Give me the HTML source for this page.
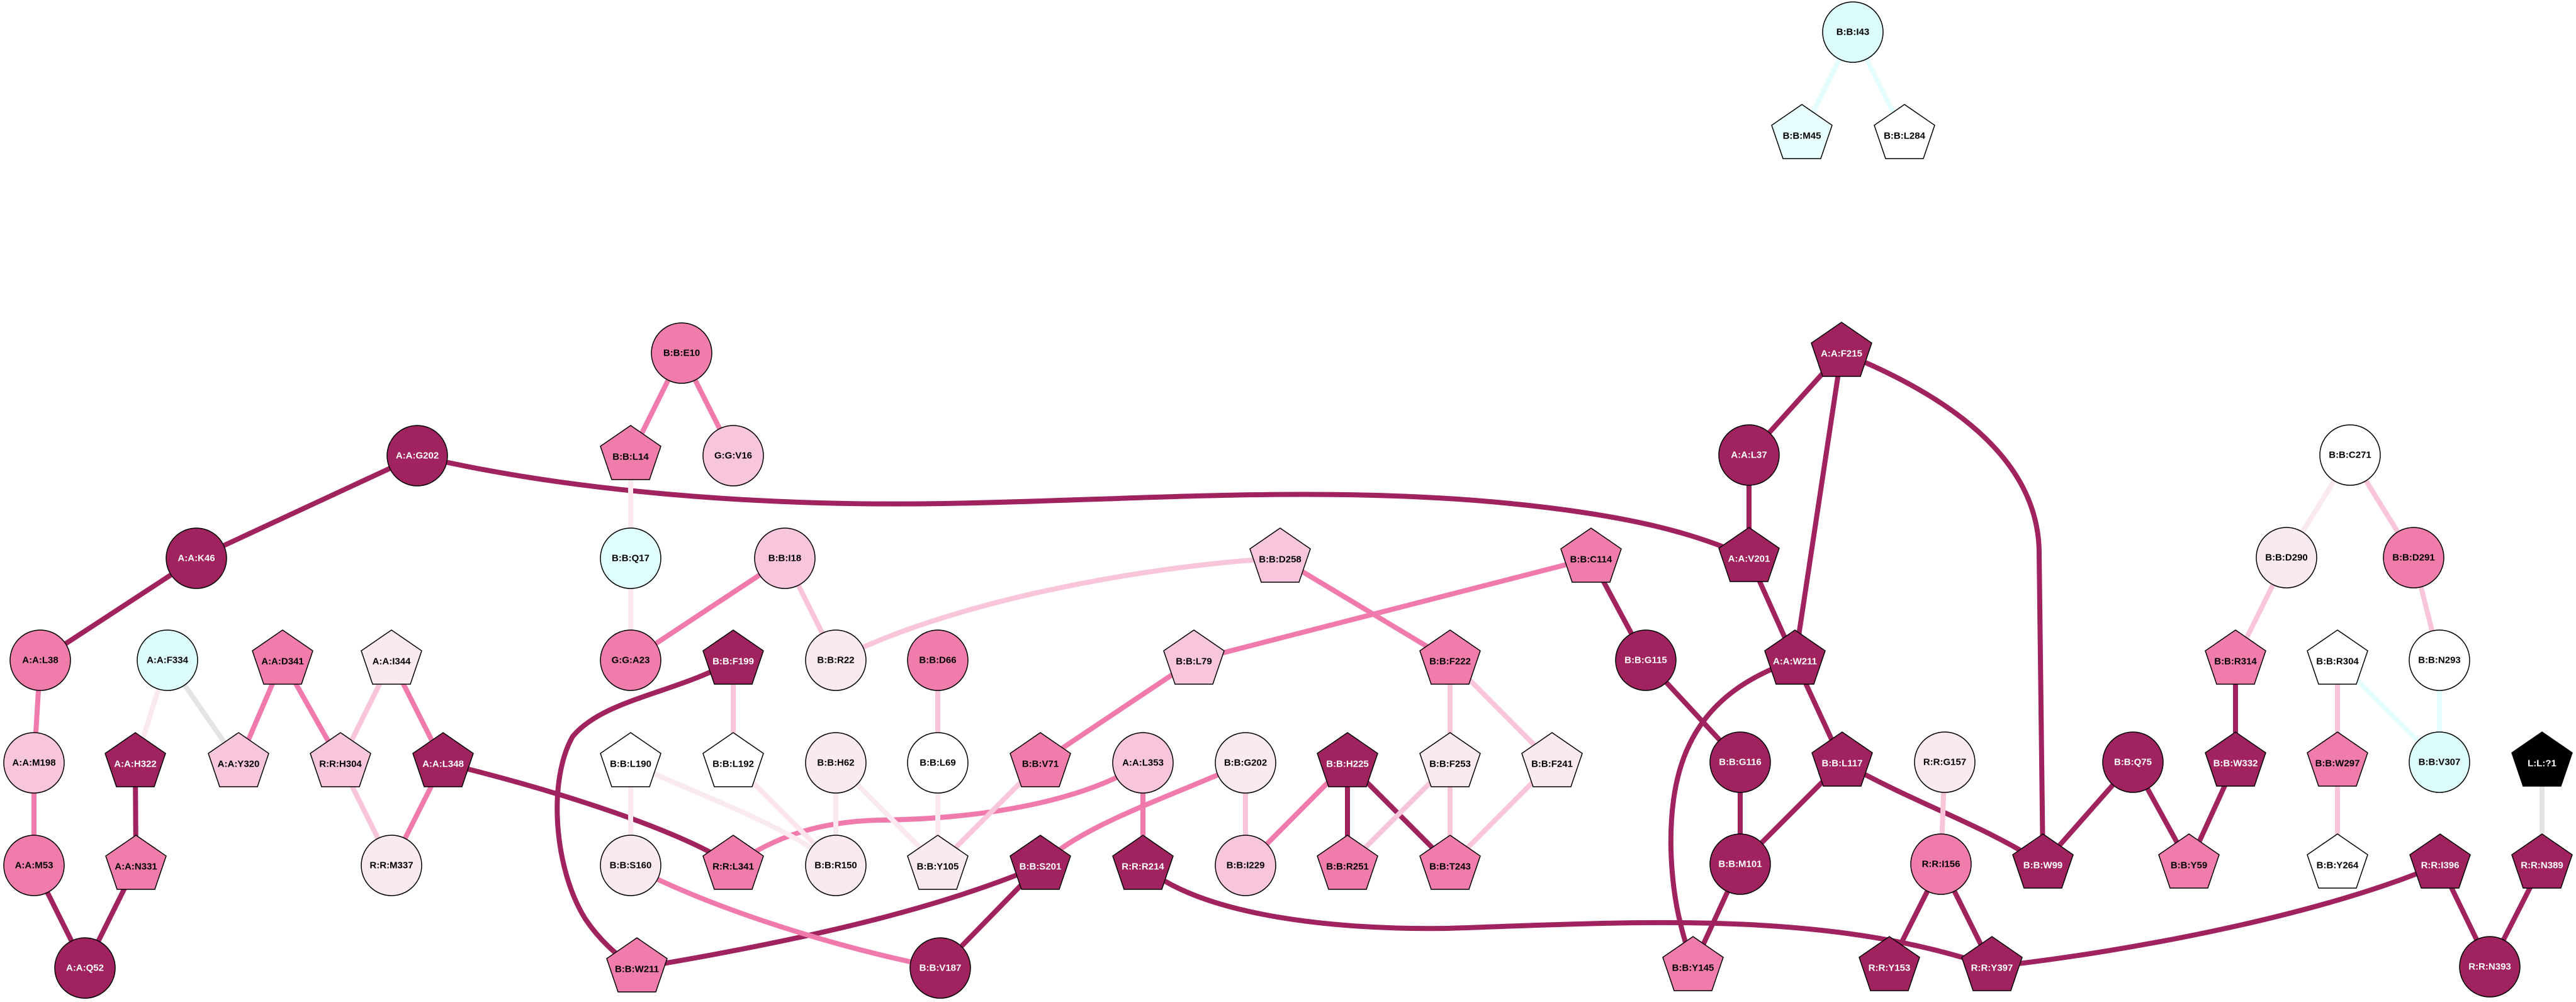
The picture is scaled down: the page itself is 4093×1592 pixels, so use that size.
<!DOCTYPE html>
<html><head><meta charset="utf-8"><style>
html,body{margin:0;padding:0;background:#fff;}
svg{display:block;}
text{font-family:"Liberation Sans",Arial,sans-serif;font-weight:bold;font-size:15px;text-anchor:middle;dominant-baseline:central;}
.w{fill:#fff}.k{fill:#000}
</style></head><body>
<svg width="4093" height="1592" viewBox="0 0 4093 1592" xmlns="http://www.w3.org/2000/svg">
<defs>
<polygon id="p" points="0,-48 48,-15 30,38 -30,38 -48,-15" stroke="#000" stroke-width="1.5"/>
<circle id="c" r="48" stroke="#000" stroke-width="1.5"/>
</defs>
<g fill="none" stroke-width="8" stroke-linecap="butt">
<!-- dark -->
<g stroke="#a0225e">
<line x1="663" y1="724" x2="312" y2="887"/>
<line x1="312" y1="887" x2="64" y2="1049"/>
<line x1="54" y1="1375" x2="135" y2="1538"/>
<line x1="216" y1="1375" x2="135" y2="1538"/>
<line x1="215" y1="1212" x2="216" y2="1375"/>
<path d="M704,1212 C900,1260 1080,1320 1165,1375"/>
<path d="M663,724 C900,780 1200,805 1500,800 C1800,795 2100,770 2400,800 C2600,820 2700,850 2779,886"/>
<line x1="2528" y1="887" x2="2615" y2="1049"/>
<path d="M1165,1049 C1080,1100 960,1110 910,1170 C870,1240 880,1380 930,1460 C950,1490 980,1520 1012,1538"/>
<path d="M1653,1375 C1500,1440 1300,1490 1012,1538"/>
<line x1="1653" y1="1375" x2="1494" y2="1538"/>
<path d="M1816,1375 C1900,1450 2100,1478 2300,1475 C2600,1465 2900,1445 3165,1536"/>
<line x1="2141" y1="1212" x2="2141" y2="1375"/>
<line x1="2141" y1="1212" x2="2304" y2="1375"/>
<line x1="2615" y1="1049" x2="2765" y2="1211"/>
<line x1="2765" y1="1211" x2="2765" y2="1373"/>
<line x1="2927" y1="1211" x2="2765" y2="1373"/>
<path d="M2927,1211 C3050,1280 3150,1310 3246,1373"/>
<line x1="2852" y1="1049" x2="2927" y2="1211"/>
<line x1="2779" y1="886" x2="2852" y2="1049"/>
<line x1="2779" y1="723" x2="2779" y2="886"/>
<line x1="2926" y1="560" x2="2779" y2="723"/>
<line x1="2926" y1="560" x2="2852" y2="1049"/>
<path d="M2926,560 C3150,650 3240,760 3240,880 L3246,1373"/>
<path d="M2852,1049 C2700,1100 2652,1200 2655,1350 C2658,1450 2680,1500 2690,1536"/>
<line x1="2765" y1="1373" x2="2690" y2="1536"/>
<line x1="3389" y1="1211" x2="3246" y2="1373"/>
<line x1="3389" y1="1211" x2="3478" y2="1373"/>
<line x1="3552" y1="1211" x2="3478" y2="1373"/>
<line x1="3552" y1="1049" x2="3552" y2="1211"/>
<line x1="3084" y1="1373" x2="3002" y2="1536"/>
<line x1="3084" y1="1373" x2="3165" y2="1536"/>
<path d="M3877,1373 C3700,1450 3400,1510 3165,1536"/>
<line x1="3877" y1="1373" x2="3956" y2="1536"/>
<line x1="4039" y1="1373" x2="3956" y2="1536"/>
</g>
<!-- medium -->
<g stroke="#ef7aab">
<line x1="64" y1="1049" x2="54" y2="1212"/>
<line x1="54" y1="1212" x2="54" y2="1375"/>
<line x1="449" y1="1049" x2="379" y2="1212"/>
<line x1="449" y1="1049" x2="541" y2="1212"/>
<line x1="622" y1="1049" x2="704" y2="1212"/>
<line x1="704" y1="1212" x2="622" y2="1375"/>
<line x1="1083" y1="561" x2="1002" y2="724"/>
<line x1="1083" y1="561" x2="1165" y2="724"/>
<line x1="1247" y1="887" x2="1002" y2="1049"/>
<line x1="2034" y1="887" x2="2304" y2="1049"/>
<line x1="2528" y1="887" x2="1897" y2="1049"/>
<line x1="1897" y1="1049" x2="1653" y2="1212"/>
<path d="M1816,1212 C1740,1262 1600,1300 1400,1303 C1300,1305 1230,1330 1165,1375"/>
<line x1="1816" y1="1212" x2="1816" y2="1375"/>
<path d="M1979,1212 C1850,1270 1720,1310 1653,1375"/>
<path d="M1002,1375 C1100,1430 1300,1500 1494,1538"/>
<line x1="2141" y1="1212" x2="1979" y2="1375"/>
</g>
<!-- light -->
<g stroke="#f8c5da">
<line x1="622" y1="1049" x2="541" y2="1212"/>
<line x1="541" y1="1212" x2="622" y2="1375"/>
<line x1="1247" y1="887" x2="1328" y2="1049"/>
<path d="M1328,1049 C1500,960 1800,900 2034,887"/>
<line x1="1165" y1="1049" x2="1165" y2="1212"/>
<line x1="1490" y1="1049" x2="1490" y2="1212"/>
<line x1="1653" y1="1212" x2="1490" y2="1375"/>
<line x1="1979" y1="1212" x2="1979" y2="1375"/>
<line x1="2304" y1="1049" x2="2304" y2="1212"/>
<line x1="2304" y1="1049" x2="2466" y2="1212"/>
<line x1="2304" y1="1212" x2="2141" y2="1375"/>
<line x1="2304" y1="1212" x2="2304" y2="1375"/>
<line x1="2466" y1="1212" x2="2304" y2="1375"/>
<line x1="1165" y1="1212" x2="1328" y2="1375" stroke="#fbe4ee"/>
<line x1="3734" y1="723" x2="3835" y2="886"/>
<line x1="3835" y1="886" x2="3876" y2="1049"/>
<line x1="3633" y1="886" x2="3552" y2="1049"/>
<line x1="3714" y1="1049" x2="3714" y2="1211"/>
<line x1="3714" y1="1211" x2="3714" y2="1373"/>
<line x1="3090" y1="1211" x2="3084" y2="1373"/>
</g>
<!-- very light -->
<g stroke="#fbe9f1">
<line x1="266" y1="1049" x2="215" y2="1212"/>
<line x1="1002" y1="724" x2="1002" y2="887"/>
<line x1="1002" y1="887" x2="1002" y2="1049"/>
<line x1="1002" y1="1212" x2="1002" y2="1375"/>
<path d="M1002,1212 C1100,1260 1250,1310 1328,1375"/>
<line x1="1328" y1="1212" x2="1328" y2="1375"/>
<line x1="1328" y1="1212" x2="1490" y2="1375"/>
<line x1="1490" y1="1212" x2="1490" y2="1375"/>
<line x1="3734" y1="723" x2="3633" y2="886"/>
</g>
<g stroke="#e4e4e4">
<line x1="266" y1="1049" x2="379" y2="1212"/>
<line x1="4039" y1="1211" x2="4039" y2="1373"/>
</g>
<g stroke="#e6fdfd">
<line x1="2944" y1="51" x2="2863" y2="214"/>
<line x1="2944" y1="51" x2="3026" y2="214"/>
<line x1="3876" y1="1049" x2="3876" y2="1211"/>
<line x1="3714" y1="1049" x2="3876" y2="1211"/>
</g>
</g>

<!-- nodes -->
<g>
<use href="#c" x="1083" y="561" fill="#ef7cab"/><text x="1083" y="561">B:B:E10</text>
<use href="#p" x="1002" y="724" fill="#ef7cab"/><text x="1002" y="726">B:B:L14</text>
<use href="#c" x="1165" y="724" fill="#f8c6dc"/><text x="1165" y="724">G:G:V16</text>
<use href="#c" x="663" y="724" fill="#a0225e"/><text class="w" x="663" y="724">A:A:G202</text>
<use href="#c" x="312" y="887" fill="#a0225e"/><text class="w" x="312" y="887">A:A:K46</text>
<use href="#c" x="1002" y="887" fill="#e0ffff"/><text x="1002" y="887">B:B:Q17</text>
<use href="#c" x="1247" y="887" fill="#f8c6dc"/><text x="1247" y="887">B:B:I18</text>
<use href="#c" x="64" y="1049" fill="#ef7cab"/><text x="64" y="1049">A:A:L38</text>
<use href="#c" x="266" y="1049" fill="#dcfcfc"/><text x="266" y="1049">A:A:F334</text>
<use href="#p" x="449" y="1049" fill="#ef7cab"/><text x="449" y="1051">A:A:D341</text>
<use href="#p" x="622" y="1049" fill="#fbe9f1"/><text x="622" y="1051">A:A:I344</text>
<use href="#c" x="1002" y="1049" fill="#ef7cab"/><text x="1002" y="1049">G:G:A23</text>
<use href="#p" x="1165" y="1049" fill="#a0225e"/><text class="w" x="1165" y="1051">B:B:F199</text>
<use href="#c" x="1328" y="1049" fill="#fbe9f1"/><text x="1328" y="1049">B:B:R22</text>
<use href="#c" x="54" y="1212" fill="#f8c6dc"/><text x="54" y="1212">A:A:M198</text>
<use href="#p" x="215" y="1212" fill="#a0225e"/><text class="w" x="215" y="1214">A:A:H322</text>
<use href="#p" x="379" y="1212" fill="#f8c6dc"/><text x="379" y="1214">A:A:Y320</text>
<use href="#p" x="541" y="1212" fill="#f8c6dc"/><text x="541" y="1214">R:R:H304</text>
<use href="#p" x="704" y="1212" fill="#a0225e"/><text class="w" x="704" y="1214">A:A:L348</text>
<use href="#p" x="1002" y="1212" fill="#ffffff"/><text x="1002" y="1214">B:B:L190</text>
<use href="#p" x="1165" y="1212" fill="#ffffff"/><text x="1165" y="1214">B:B:L192</text>
<use href="#c" x="1328" y="1212" fill="#fbe9f1"/><text x="1328" y="1212">B:B:H62</text>
<use href="#c" x="54" y="1375" fill="#ef7cab"/><text x="54" y="1375">A:A:M53</text>
<use href="#p" x="216" y="1375" fill="#ef7cab"/><text x="216" y="1377">A:A:N331</text>
<use href="#c" x="622" y="1375" fill="#fbe9f1"/><text x="622" y="1375">R:R:M337</text>
<use href="#c" x="1002" y="1375" fill="#fbe9f1"/><text x="1002" y="1375">B:B:S160</text>
<use href="#p" x="1165" y="1375" fill="#ef7cab"/><text x="1165" y="1377">R:R:L341</text>
<use href="#c" x="1328" y="1375" fill="#fbe9f1"/><text x="1328" y="1375">B:B:R150</text>
<use href="#c" x="135" y="1538" fill="#a0225e"/><text class="w" x="135" y="1538">A:A:Q52</text>
<use href="#p" x="1012" y="1538" fill="#ef7cab"/><text x="1012" y="1540">B:B:W211</text>

<use href="#p" x="2034" y="887" fill="#f8c6dc"/><text x="2034" y="889">B:B:D258</text>
<use href="#p" x="2528" y="887" fill="#ef7cab"/><text x="2528" y="889">B:B:C114</text>
<use href="#c" x="1490" y="1049" fill="#ef7cab"/><text x="1490" y="1049">B:B:D66</text>
<use href="#p" x="1897" y="1049" fill="#f8c6dc"/><text x="1897" y="1051">B:B:L79</text>
<use href="#p" x="2304" y="1049" fill="#ef7cab"/><text x="2304" y="1051">B:B:F222</text>
<use href="#c" x="2615" y="1049" fill="#a0225e"/><text class="w" x="2615" y="1049">B:B:G115</text>
<use href="#c" x="1490" y="1212" fill="#ffffff"/><text x="1490" y="1212">B:B:L69</text>
<use href="#p" x="1653" y="1212" fill="#ef7cab"/><text x="1653" y="1214">B:B:V71</text>
<use href="#c" x="1816" y="1212" fill="#f8c6dc"/><text x="1816" y="1212">A:A:L353</text>
<use href="#c" x="1979" y="1212" fill="#fbe9f1"/><text x="1979" y="1212">B:B:G202</text>
<use href="#p" x="2141" y="1212" fill="#a0225e"/><text class="w" x="2141" y="1214">B:B:H225</text>
<use href="#p" x="2304" y="1212" fill="#fbe9f1"/><text x="2304" y="1214">B:B:F253</text>
<use href="#p" x="2466" y="1212" fill="#fbe9f1"/><text x="2466" y="1214">B:B:F241</text>
<use href="#p" x="1490" y="1375" fill="#fbe9f1"/><text x="1490" y="1377">B:B:Y105</text>
<use href="#p" x="1653" y="1375" fill="#a0225e"/><text class="w" x="1653" y="1377">B:B:S201</text>
<use href="#p" x="1816" y="1375" fill="#a0225e"/><text class="w" x="1816" y="1377">R:R:R214</text>
<use href="#c" x="1979" y="1375" fill="#f8c6dc"/><text x="1979" y="1375">B:B:I229</text>
<use href="#p" x="2141" y="1375" fill="#ef7cab"/><text x="2141" y="1377">B:B:R251</text>
<use href="#p" x="2304" y="1375" fill="#ef7cab"/><text x="2304" y="1377">B:B:T243</text>
<use href="#c" x="1494" y="1538" fill="#a0225e"/><text class="w" x="1494" y="1538">B:B:V187</text>

<use href="#c" x="2944" y="51" fill="#dcfcfc"/><text x="2944" y="51">B:B:I43</text>
<use href="#p" x="2863" y="214" fill="#e8fdfd"/><text x="2863" y="216">B:B:M45</text>
<use href="#p" x="3026" y="214" fill="#ffffff"/><text x="3026" y="216">B:B:L284</text>
<use href="#p" x="2926" y="560" fill="#a0225e"/><text class="w" x="2926" y="562">A:A:F215</text>
<use href="#c" x="2779" y="723" fill="#a0225e"/><text class="w" x="2779" y="723">A:A:L37</text>
<use href="#c" x="3734" y="723" fill="#ffffff"/><text x="3734" y="723">B:B:C271</text>
<use href="#p" x="2779" y="886" fill="#a0225e"/><text class="w" x="2779" y="888">A:A:V201</text>
<use href="#c" x="3633" y="886" fill="#fbe9f1"/><text x="3633" y="886">B:B:D290</text>
<use href="#c" x="3835" y="886" fill="#ef7cab"/><text x="3835" y="886">B:B:D291</text>
<use href="#p" x="2852" y="1049" fill="#a0225e"/><text class="w" x="2852" y="1051">A:A:W211</text>
<use href="#p" x="3552" y="1049" fill="#ef7cab"/><text x="3552" y="1051">B:B:R314</text>
<use href="#p" x="3714" y="1049" fill="#ffffff"/><text x="3714" y="1051">B:B:R304</text>
<use href="#c" x="3876" y="1049" fill="#ffffff"/><text x="3876" y="1049">B:B:N293</text>
<use href="#c" x="2765" y="1211" fill="#a0225e"/><text class="w" x="2765" y="1211">B:B:G116</text>
<use href="#p" x="2927" y="1211" fill="#a0225e"/><text class="w" x="2927" y="1213">B:B:L117</text>
<use href="#c" x="3090" y="1211" fill="#fbe9f1"/><text x="3090" y="1211">R:R:G157</text>
<use href="#c" x="3389" y="1211" fill="#a0225e"/><text class="w" x="3389" y="1211">B:B:Q75</text>
<use href="#p" x="3552" y="1211" fill="#a0225e"/><text class="w" x="3552" y="1213">B:B:W332</text>
<use href="#p" x="3714" y="1211" fill="#ef7cab"/><text x="3714" y="1213">B:B:W297</text>
<use href="#c" x="3876" y="1211" fill="#dcfcfc"/><text x="3876" y="1211">B:B:V307</text>
<use href="#p" x="4039" y="1211" fill="#000000"/><text class="w" x="4039" y="1213">L:L:?1</text>
<use href="#c" x="2765" y="1373" fill="#a0225e"/><text class="w" x="2765" y="1373">B:B:M101</text>
<use href="#c" x="3084" y="1373" fill="#ef7cab"/><text x="3084" y="1373">R:R:I156</text>
<use href="#p" x="3246" y="1373" fill="#a0225e"/><text class="w" x="3246" y="1375">B:B:W99</text>
<use href="#p" x="3478" y="1373" fill="#ef7cab"/><text x="3478" y="1375">B:B:Y59</text>
<use href="#p" x="3714" y="1373" fill="#ffffff"/><text x="3714" y="1375">B:B:Y264</text>
<use href="#p" x="3877" y="1373" fill="#a0225e"/><text class="w" x="3877" y="1375">R:R:I396</text>
<use href="#p" x="4039" y="1373" fill="#a0225e"/><text class="w" x="4039" y="1375">R:R:N389</text>
<use href="#p" x="2690" y="1536" fill="#ef7cab"/><text x="2690" y="1538">B:B:Y145</text>
<use href="#p" x="3002" y="1536" fill="#a0225e"/><text class="w" x="3002" y="1538">R:R:Y153</text>
<use href="#p" x="3165" y="1536" fill="#a0225e"/><text class="w" x="3165" y="1538">R:R:Y397</text>
<use href="#c" x="3956" y="1536" fill="#a0225e"/><text class="w" x="3956" y="1536">R:R:N393</text>
</g>
</svg>
</body></html>
